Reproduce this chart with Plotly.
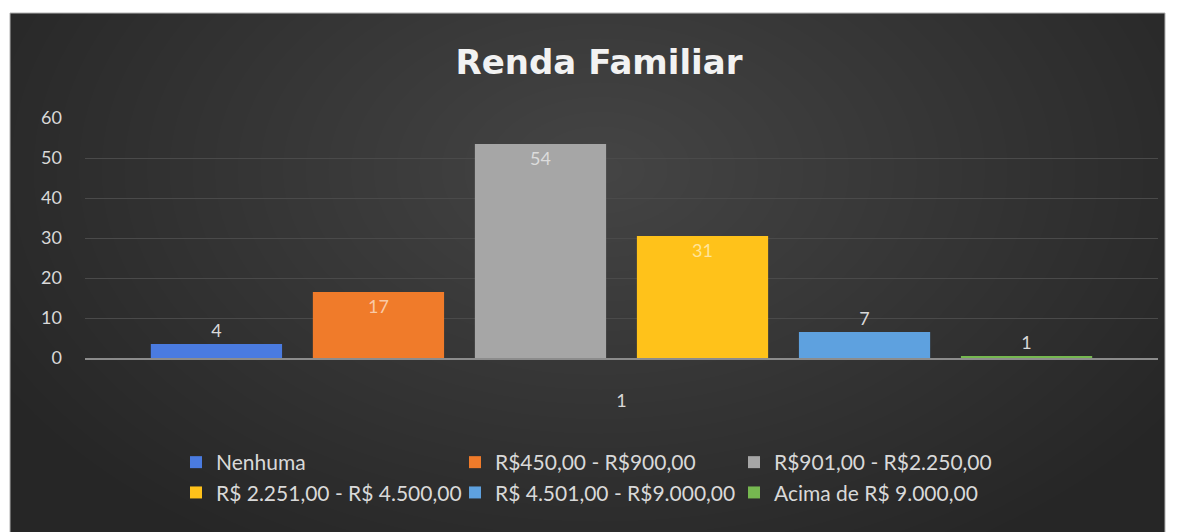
import plotly.graph_objects as go

categories = ["1"]
series_names = ["Nenhuma", "R$450,00 - R$900,00", "R$901,00 - R$2.250,00",
                "R$ 2.251,00 - R$ 4.500,00", "R$ 4.501,00 - R$9.000,00", "Acima de R$ 9.000,00"]
series_values = [3.5, 16.5, 53.5, 30.5, 6.5, 0.5]
series_labels = ["4", "17", "54", "31", "7", "1"]
series_colors = ["#4a7be0", "#f07b2a", "#a6a6a6", "#ffc21a", "#5ea1df", "#76b850"]
label_colors = ["#d9d9d9", "#f9c9a6", "#dcdcdc", "#ffe59a", "#d9e8f7", "#d9d9d9"]
label_positions = ["outside", "inside", "inside", "inside", "outside", "outside"]
y_ticks = [0, 10, 20, 30, 40, 50, 60]

W, H = 1179, 532
L, R, T, B = 85, 21, 118, 174
PW, PH = W - L - R, H - T - B

def px_x(p):
    return (p - L) / PW

def px_y(p):
    return (H - B - p) / PH

fig = go.Figure()
for name, val, lab, col, lc, pos in zip(series_names, series_values, series_labels,
                                         series_colors, label_colors, label_positions):
    fig.add_trace(go.Bar(
        x=categories, y=[val], name=name, text=[lab],
        textposition=pos, insidetextanchor="end",
        textfont=dict(color=lc, size=18, family="Lato"),
        outsidetextfont=dict(color="#d9d9d9", size=18, family="Lato"),
        insidetextfont=dict(color=lc, size=18, family="Lato"),
        marker=dict(color=col, line=dict(width=0)),
        cliponaxis=False,
    ))

shapes = [dict(type="rect", xref="paper", yref="paper", layer="below",
               x0=px_x(10), x1=px_x(1165), y0=px_y(533), y1=px_y(13),
               fillcolor="#262626", line=dict(color="#b0b0b0", width=1))]
cx, cy = 600, 170
n = 30
for i in range(n):
    f = 1 - i / n
    rx, ry = 680 * f, 440 * f
    shapes.append(dict(type="circle", xref="paper", yref="paper", layer="below",
                       x0=px_x(cx - rx), x1=px_x(cx + rx),
                       y0=px_y(cy + ry), y1=px_y(cy - ry),
                       fillcolor="rgba(255,255,255,0.0075)", line=dict(width=0)))

fig.update_layout(
    width=W, height=H,
    margin=dict(l=L, r=R, t=T, b=B),
    paper_bgcolor="white", plot_bgcolor="rgba(0,0,0,0)",
    shapes=shapes,
    title=dict(text="<b>Renda Familiar</b>", x=599 / W, xanchor="center",
               y=1 - 62 / H, yanchor="middle",
               font=dict(family="DejaVu Sans", size=34, color="#f2f2f2")),
    barmode="group", bargap=0.094, bargroupgap=0.19,
    font=dict(family="Lato", color="#d9d9d9"),
    showlegend=True,
    legend=dict(orientation="h", x=px_x(176), xanchor="left", y=px_y(442), yanchor="top",
                entrywidth=234, entrywidthmode="pixels", traceorder="normal",
                font=dict(family="Lato", size=21, color="#d9d9d9"),
                bgcolor="rgba(0,0,0,0)", itemclick=False),
    xaxis=dict(showgrid=False, showline=True, linecolor="#8c8c8c", linewidth=2,
               ticks="", tickfont=dict(size=18, color="#d9d9d9"),
               ticklabelstandoff=25, fixedrange=True),
    yaxis=dict(range=[0, 60], tickvals=y_ticks, showgrid=True, gridcolor="#4a4a4a",
               gridwidth=1, zeroline=False, showline=False,
               tickfont=dict(size=18, color="#d9d9d9"), ticklabelstandoff=22,
               fixedrange=True),
)

fig.write_html("out.html", config={"displayModeBar": False},
               post_script="document.body.style.margin='0px';")
